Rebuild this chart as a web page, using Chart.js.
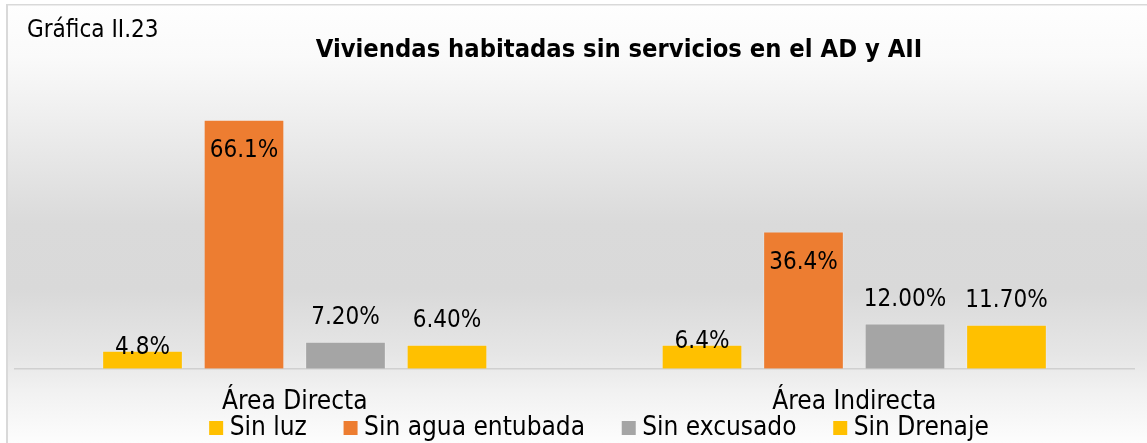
<!DOCTYPE html>
<html>
<head>
<meta charset="utf-8">
<script src="https://cdn.jsdelivr.net/npm/chart.js@4.4.1/dist/chart.umd.min.js"></script>
<style>
  html, body { margin: 0; padding: 0; background: #ffffff; }
  #wrap { width: 1147px; height: 443px; }
</style>
</head>
<body>
<div id="wrap"><canvas id="c" width="1147" height="443"></canvas></div>
<script>
// ---- data ----
const categories = ['Área Directa', 'Área Indirecta'];
const seriesNames = ['Sin luz', 'Sin agua entubada', 'Sin excusado', 'Sin Drenaje'];
const sinLuz = [4.8, 6.4];
const sinAguaEntubada = [66.1, 36.4];
const sinExcusado = [7.2, 12.0];
const sinDrenaje = [6.4, 11.7];
const labelDecimals = [1, 1, 2, 2];

const chartTitle = 'Viviendas habitadas sin servicios en el AD y AII';
const chartCaption = 'Gráfica II.23';

// ---- style ----
const FONT = '"DejaVu Sans Condensed", "DejaVu Sans", sans-serif';
const seriesColors = ['#FFC000', '#ED7D31', '#A5A5A5', '#FFC000'];
const labelPlacement = ['overlap', 'inside', 'outside', 'outside'];

const seriesValues = [sinLuz, sinAguaEntubada, sinExcusado, sinDrenaje];

// Panel background with soft vertical gradient and thin frame
const panelBackground = {
  id: 'panelBackground',
  beforeDraw(chart) {
    const { ctx, width, height } = chart;
    ctx.save();
    ctx.fillStyle = '#ffffff';
    ctx.fillRect(0, 0, width, height);
    const g = ctx.createLinearGradient(0, 4, 0, height);
    g.addColorStop(0.00, '#fefefe');
    g.addColorStop(0.12, '#fafafa');
    g.addColorStop(0.30, '#ebebeb');
    g.addColorStop(0.50, '#dadada');
    g.addColorStop(0.65, '#d9d9d9');
    g.addColorStop(0.80, '#e6e6e6');
    g.addColorStop(0.88, '#f1f1f1');
    g.addColorStop(1.00, '#fdfdfd');
    ctx.fillStyle = g;
    ctx.fillRect(6, 4, width - 6, height - 4);
    ctx.fillStyle = '#d9d9d9';
    ctx.fillRect(6, 4, width - 6, 1.5);
    ctx.fillRect(6, 4, 2, height - 4);
    ctx.restore();
  }
};

// Caption, title and legend
const headerAndLegend = {
  id: 'headerAndLegend',
  afterDraw(chart) {
    const { ctx } = chart;
    ctx.save();
    ctx.fillStyle = '#000000';
    ctx.textBaseline = 'alphabetic';

    ctx.font = '24px ' + FONT;
    ctx.textAlign = 'left';
    ctx.fillText(chartCaption, 27, 37);

    ctx.font = 'bold 25.3px ' + FONT;
    ctx.textAlign = 'center';
    ctx.fillText(chartTitle, 619, 56.5);

    // legend row
    ctx.font = '26px ' + FONT;
    const box = 14, textGap = 6.5, itemGap = 36.7;
    const widths = seriesNames.map(n => ctx.measureText(n).width);
    const total = widths.reduce((s, w) => s + box + textGap + w, 0) + itemGap * (seriesNames.length - 1);
    let x = 599 - total / 2;
    const baseline = 435;
    ctx.textAlign = 'left';
    seriesNames.forEach((name, i) => {
      ctx.fillStyle = seriesColors[i];
      ctx.fillRect(x, baseline - box, box, box);
      ctx.fillStyle = '#000000';
      ctx.fillText(name, x + box + textGap, baseline);
      x += box + textGap + widths[i] + itemGap;
    });
    ctx.restore();
  }
};

// Value labels on the bars
const valueLabels = {
  id: 'valueLabels',
  afterDatasetsDraw(chart) {
    const { ctx } = chart;
    ctx.save();
    ctx.font = '24px ' + FONT;
    ctx.fillStyle = '#000000';
    ctx.textAlign = 'center';
    ctx.textBaseline = 'alphabetic';
    chart.data.datasets.forEach((ds, i) => {
      const meta = chart.getDatasetMeta(i);
      meta.data.forEach((bar, j) => {
        const text = ds.data[j].toFixed(labelDecimals[i]) + '%';
        let y;
        if (labelPlacement[i] === 'inside') y = bar.y + 37;
        else if (labelPlacement[i] === 'overlap') y = bar.y + 3;
        else y = bar.y - 17.5;
        ctx.fillText(text, bar.x, y);
      });
    });
    ctx.restore();
  }
};

new Chart(document.getElementById('c'), {
  type: 'bar',
  data: {
    labels: categories,
    datasets: seriesNames.map((name, i) => ({
      label: name,
      data: seriesValues[i],
      backgroundColor: seriesColors[i],
      borderColor: 'rgba(255,255,255,0.2)',
      borderWidth: 1,
      categoryPercentage: 0.7256,
      barPercentage: 0.795
    }))
  },
  options: {
    responsive: false,
    animation: false,
    devicePixelRatio: 1,
    layout: { padding: { left: 15, right: 13, top: 105, bottom: 7 } },
    plugins: {
      legend: { display: false },
      title: { display: false },
      tooltip: { enabled: false }
    },
    scales: {
      x: {
        grid: { display: false, drawTicks: false },
        border: { display: true, color: '#d0d0d0', width: 1.5 },
        ticks: { color: '#000000', padding: 18, font: { family: FONT, size: 26 } }
      },
      y: { display: false, min: 0, max: 70 }
    }
  },
  plugins: [panelBackground, valueLabels, headerAndLegend]
});
</script>
</body>
</html>
